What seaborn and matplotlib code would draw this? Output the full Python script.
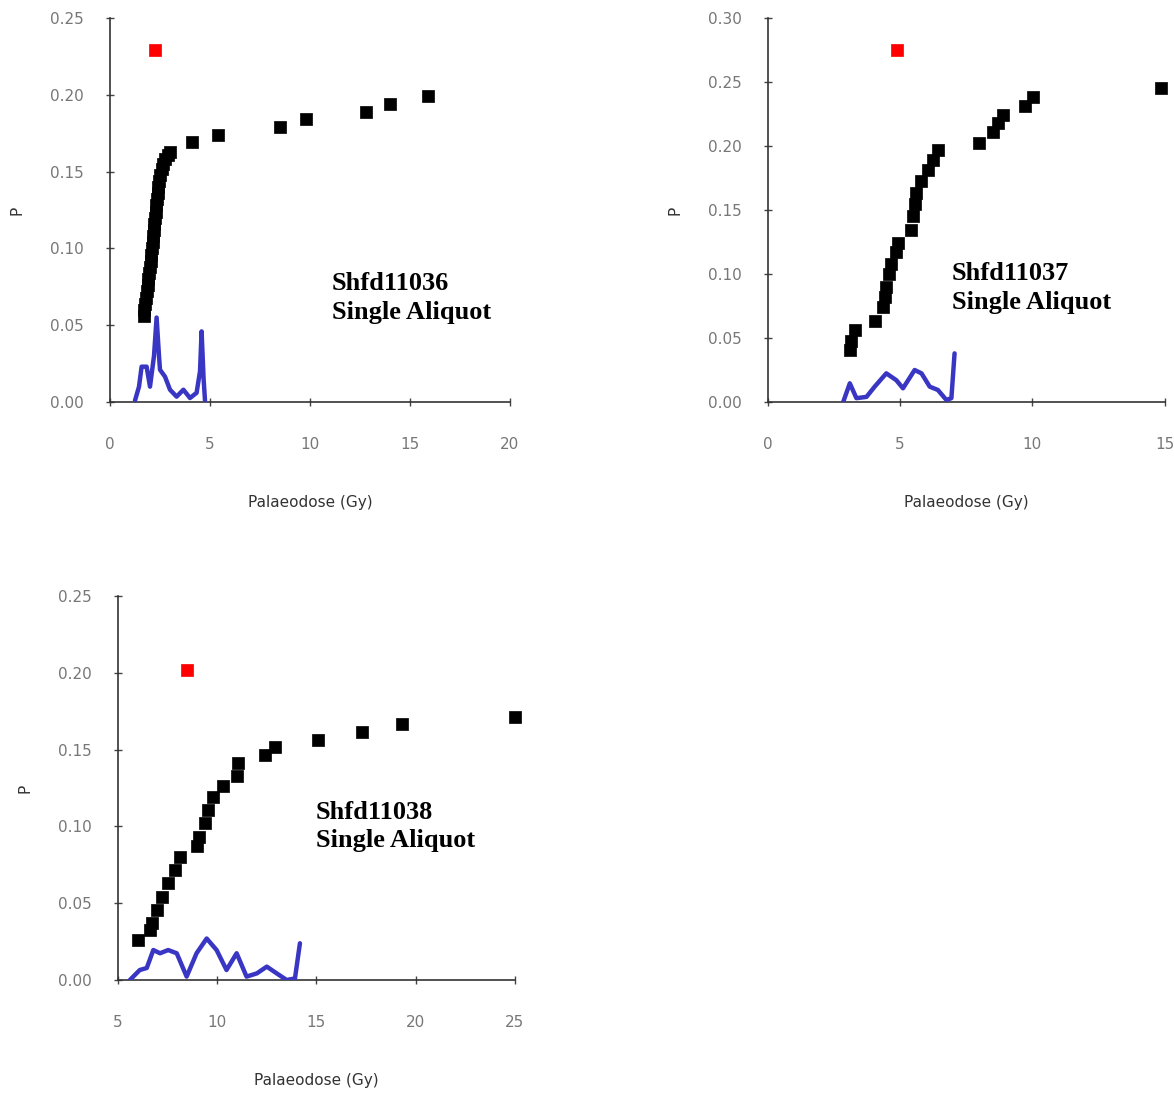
import matplotlib
matplotlib.use("Agg")
import matplotlib.pyplot as plt
import seaborn as sns
import pandas as pd

# ---- Shfd11036 ----
dose_36 = [1.70, 1.72, 1.76, 1.80, 1.85, 1.88, 1.92, 1.96, 2.00, 2.03, 2.07, 2.10,
           2.13, 2.16, 2.19, 2.22, 2.25, 2.28, 2.31, 2.34, 2.38, 2.42, 2.46, 2.52,
           2.58, 2.65, 2.75, 2.88, 3.00, 4.1, 5.4, 8.5, 9.8, 12.8, 14.0, 15.9]
p_36 = [0.056, 0.060, 0.064, 0.068, 0.072, 0.076, 0.080, 0.084, 0.088, 0.092, 0.096, 0.100,
        0.104, 0.108, 0.112, 0.116, 0.120, 0.124, 0.128, 0.132, 0.136, 0.140, 0.144, 0.148,
        0.152, 0.155, 0.158, 0.161, 0.163, 0.169, 0.174, 0.179, 0.184, 0.189, 0.194, 0.199]
red_36 = ([2.25], [0.229])
pdf_x_36 = [1.25, 1.45, 1.58, 1.83, 2.0, 2.2, 2.33, 2.45, 2.5, 2.75, 3.0, 3.33, 3.67, 4.0,
            4.33, 4.5, 4.58, 4.68, 4.75]
pdf_y_36 = [0.001, 0.010, 0.023, 0.023, 0.010, 0.030, 0.055, 0.030, 0.021, 0.0165, 0.008,
            0.0035, 0.008, 0.0026, 0.006, 0.020, 0.046, 0.015, 0.001]

# ---- Shfd11037 ----
dose_37 = [3.10, 3.16, 3.29, 4.04, 4.35, 4.42, 4.48, 4.60, 4.67, 4.86, 4.92, 5.43, 5.48,
           5.55, 5.60, 5.80, 6.05, 6.24, 6.43, 8.0, 8.5, 8.7, 8.89, 9.71, 10.03, 14.85]
p_37 = [0.041, 0.048, 0.056, 0.063, 0.0745, 0.082, 0.090, 0.100, 0.108, 0.117, 0.124, 0.134,
        0.145, 0.155, 0.163, 0.173, 0.181, 0.189, 0.197, 0.202, 0.211, 0.218, 0.224, 0.231,
        0.2385, 0.245]
red_37 = ([4.87], [0.275])
pdf_x_37 = [2.85, 3.1, 3.35, 3.73, 4.04, 4.48, 4.86, 5.11, 5.55, 5.81, 6.12, 6.43, 6.75,
            6.94, 7.06]
pdf_y_37 = [0.0, 0.0146, 0.003, 0.004, 0.012, 0.0224, 0.017, 0.0107, 0.025, 0.0224, 0.012,
            0.0094, 0.0016, 0.003, 0.038]

# ---- Shfd11038 ----
dose_38 = [6.02, 6.6, 6.7, 6.95, 7.2, 7.53, 7.87, 8.12, 8.98, 9.07, 9.4, 9.56, 9.81, 10.31,
           10.98, 11.06, 12.4, 12.9, 15.1, 17.28, 19.29, 25.0]
p_38 = [0.026, 0.0326, 0.037, 0.0456, 0.054, 0.063, 0.0716, 0.080, 0.087, 0.093, 0.102,
        0.111, 0.119, 0.126, 0.133, 0.141, 0.1465, 0.152, 0.156, 0.1617, 0.1667, 0.171]
red_38 = ([8.48], [0.2018])
pdf_x_38 = [5.6, 6.1, 6.45, 6.78, 7.12, 7.53, 7.96, 8.46, 8.96, 9.47, 9.97, 10.47, 10.98,
            11.48, 12.0, 12.5, 13.0, 13.5, 13.92, 14.17]
pdf_y_38 = [0.0, 0.0065, 0.0078, 0.0195, 0.0174, 0.0195, 0.0174, 0.0022, 0.0174, 0.027,
            0.0195, 0.0065, 0.0174, 0.0022, 0.0043, 0.0087, 0.0043, 0.0, 0.001, 0.0239]

panels = [
    # data, red, pdf, x range, x ticks, y top, y ticks, label, label pos, axes rect
    (dose_36, p_36, red_36, pdf_x_36, pdf_y_36, (0, 20), [0, 5, 10, 15, 20], 0.25,
     [0.00, 0.05, 0.10, 0.15, 0.20, 0.25], "Shfd11036\nSingle Aliquot", (11.1, 0.0677),
     [0.0937, 0.6322, 0.3407, 0.3513]),
    (dose_37, p_37, red_37, pdf_x_37, pdf_y_37, (0, 15), [0, 5, 10, 15], 0.30,
     [0.00, 0.05, 0.10, 0.15, 0.20, 0.25, 0.30], "Shfd11037\nSingle Aliquot", (6.95, 0.089),
     [0.654, 0.6322, 0.338, 0.3513]),
    (dose_38, p_38, red_38, pdf_x_38, pdf_y_38, (5, 25), [5, 10, 15, 20, 25], 0.25,
     [0.00, 0.05, 0.10, 0.15, 0.20, 0.25], "Shfd11038\nSingle Aliquot", (14.97, 0.100),
     [0.1005, 0.1034, 0.338, 0.3513]),
]

sns.set_theme(style="white")
fig = plt.figure(figsize=(11.74, 10.93), dpi=100)

for (dx, py, red, kx, ky, xr, xt, ytop, yt, label, lpos, rect) in panels:
    ax = fig.add_axes(rect)
    pts = pd.DataFrame({"dose": dx, "p": py})
    sns.scatterplot(data=pts, x="dose", y="p", marker="s", s=80, color="black",
                    edgecolor="black", linewidth=0.5, ax=ax, zorder=3, clip_on=False)
    sns.scatterplot(x=red[0], y=red[1], marker="s", s=80, color="#ff0000",
                    edgecolor="#ff0000", linewidth=0.5, ax=ax, zorder=3, clip_on=False)
    pdf = pd.DataFrame({"dose": kx, "p": ky})
    sns.lineplot(data=pdf, x="dose", y="p", sort=False, color="#3a36c4", linewidth=3.2,
                 ax=ax, zorder=4)

    ax.set_xlim(*xr)
    ax.set_ylim(0, ytop)
    ax.set_xticks(xt)
    ax.set_yticks(yt)
    ax.set_yticklabels([f"{v:.2f}" for v in yt])
    ax.tick_params(axis="both", bottom=True, left=True, direction="inout", length=6,
                   width=1, color="#444444", labelsize=11, labelcolor="#777777")
    ax.tick_params(axis="y", pad=16)
    ax.tick_params(axis="x", pad=22)
    sns.despine(ax=ax)
    for s in ["left", "bottom"]:
        ax.spines[s].set_color("#333333")
        ax.spines[s].set_linewidth(1.2)
    ax.set_xlabel("Palaeodose (Gy)", fontsize=11, color="#333333", labelpad=31)
    ax.set_ylabel("P", fontsize=11, color="#333333", labelpad=18)
    ax.text(lpos[0], lpos[1], label, fontsize=19, fontweight="bold",
            family="Liberation Serif", color="black", va="center", ha="left",
            linespacing=1.3)

fig.savefig("out.png", dpi=100)
